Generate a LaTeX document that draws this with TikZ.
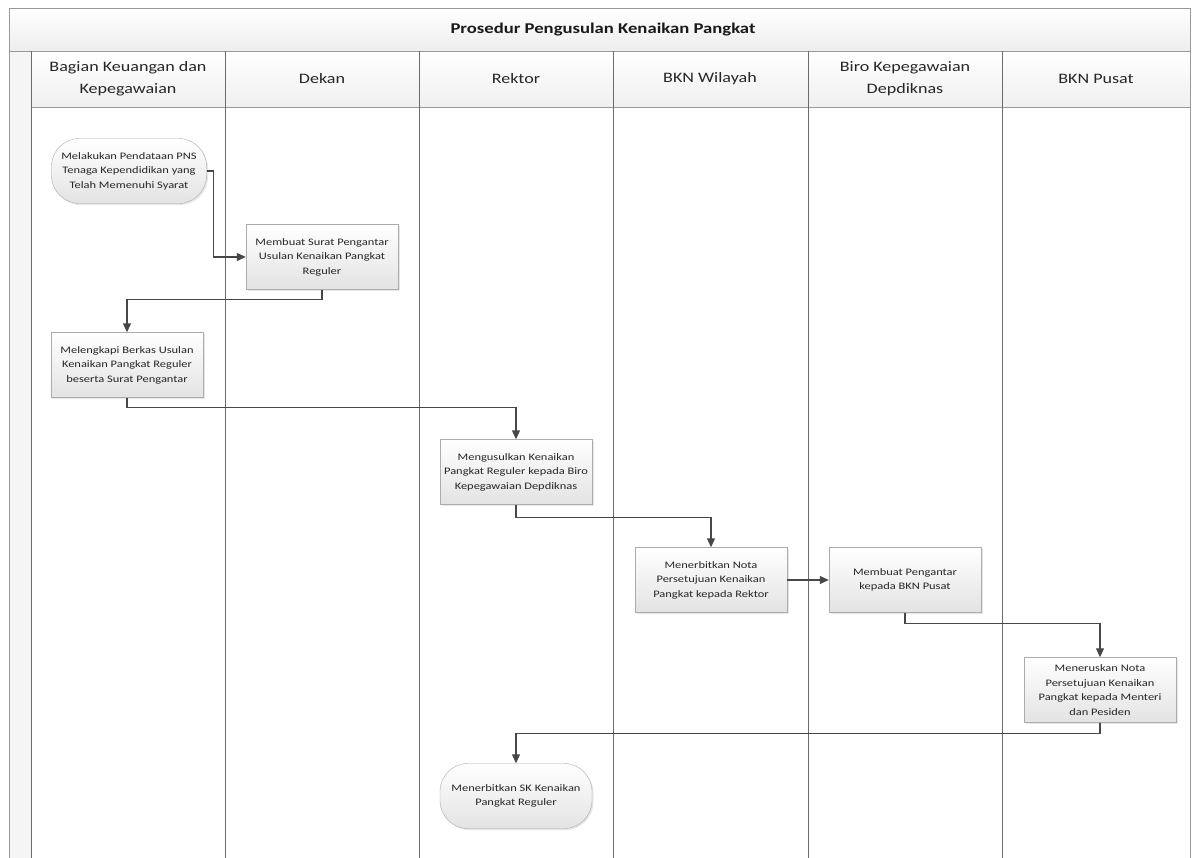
\documentclass[tikz,border=0pt]{standalone}
\usepackage{fontspec}
\setmainfont{Carlito}[FakeStretch=1.25]
\usetikzlibrary{arrows.meta,positioning,calc,shadows}

\begin{document}
\begin{tikzpicture}[x=1bp,y=-1bp,
  proses/.style={draw=gray!65, top color=white, bottom color=gray!22, minimum width=152bp, minimum height=65bp,
    inner sep=1bp, align=center, text=black!85, font=\fontsize{10}{14.5}\selectfont,
    drop shadow={opacity=0.2, shadow xshift=1.5bp, shadow yshift=-1.5bp}},
  ujung/.style={proses, rounded corners=28bp},
  alur/.style={draw=black!72, line width=1.1bp, -{Triangle[length=9bp,width=8bp]}},
  lajur/.style={font=\fontsize{14.5}{22}\selectfont, align=center, text=black!85}]
\useasboundingbox (0,0) rectangle (1192,858);
\fill[top color=white, bottom color=gray!14] (9,8) rectangle (1190,51);
\fill[top color=white, bottom color=gray!12] (31,51) rectangle (1190,107);
\fill[gray!8] (9,51) rectangle (31,858);
\draw[gray!80, line width=0.9bp] (9,858) -- (9,8) -- (1190,8) -- (1190,858);
\draw[gray!80, line width=0.9bp] (9,51) -- (1190,51) (31,107) -- (1190,107);
\foreach \a in {31,225,419,613,808,1002} {
  \draw[gray!85!black, line width=0.9bp] (\a,51) -- (\a,858);
}
\node[font=\bfseries\fontsize{15}{17}\selectfont, text=black!90] (judul) at (603,30) {Prosedur Pengusulan Kenaikan Pangkat};
\foreach \x/\l [count=\i] in {128/{Bagian Keuangan dan\\Kepegawaian},322/Dekan,516/Rektor,710/BKN Wilayah,905/{Biro Kepegawaian\\Depdiknas},1096/BKN Pusat} {
  \node[lajur] (h\i) at (\x,79) {\l};
}

\node[ujung, minimum width=155bp] (n1) at (129,171) {Melakukan Pendataan PNS\\Tenaga Kependidikan yang\\Telah Memenuhi Syarat};
\node[proses] (n2) at (322,257) {Membuat Surat Pengantar\\Usulan Kenaikan Pangkat\\Reguler};
\node[proses] (n3) at (127,365) {Melengkapi Berkas Usulan\\Kenaikan Pangkat Reguler\\beserta Surat Pengantar};
\node[proses] (n4) at (516,472) {Mengusulkan Kenaikan\\Pangkat Reguler kepada Biro\\Kepegawaian Depdiknas};
\node[proses] (n5) at (711,580) {Menerbitkan Nota\\Persetujuan Kenaikan\\Pangkat kepada Rektor};
\node[proses] (n6) at (905,580) {Membuat Pengantar\\kepada BKN Pusat};
\node[proses] (n7) at (1100,690) {Meneruskan Nota\\Persetujuan Kenaikan\\Pangkat kepada Menteri\\dan Pesiden};
\node[ujung] (n8) at (516,796) {Menerbitkan SK Kenaikan\\Pangkat Reguler};

\draw[alur] (n1.east) -- ++(7,0) |- (n2.west);
\draw[alur] (n2.south) -- ++(0,10) -| (n3.north);
\draw[alur] (n3.south) -- ++(0,10) -| (n4.north);
\draw[alur] (n4.south) -- ++(0,13) -| (n5.north);
\draw[alur] (n5) -- (n6);
\draw[alur] (n6.south) -- ++(0,11) -| (n7.north);
\draw[alur] (n7.south) -- ++(0,11) -| (n8.north);
\end{tikzpicture}
\end{document}
